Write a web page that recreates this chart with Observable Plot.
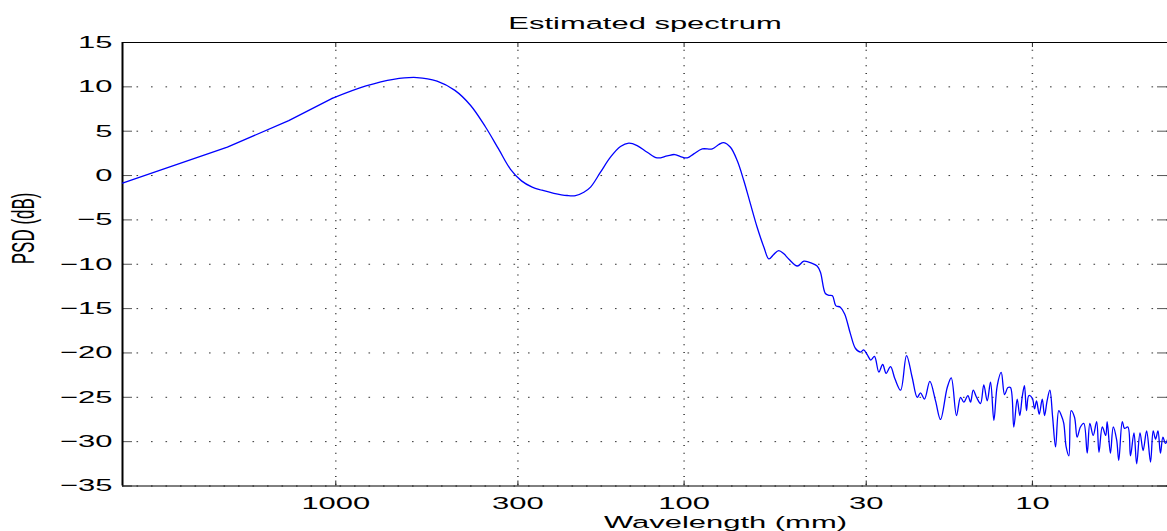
<!DOCTYPE html>
<html>
<head>
<meta charset="utf-8">
<script src="https://cdn.jsdelivr.net/npm/d3@7"></script>
<script src="https://cdn.jsdelivr.net/npm/@observablehq/plot@0.6"></script>
<style>
  html, body { margin: 0; padding: 0; background: #fff; overflow: hidden; }
</style>
</head>
<body>
<div id="chart"></div>
<script>
// Estimated power spectral density against wavelength (record length 4096 mm)
const wavelengthMm = [
  4096, 2048, 1365, 1024, 819, 683, 585, 512, 455, 410, 372, 341, 315, 293, 273, 256,
  236.6, 216.5, 205, 194, 185.6, 173.8, 162.7, 152.3, 144.1, 136.4,
  127.6, 119.5, 111.8, 106.5, 102.4, 97.9, 93.8, 88.7, 83.0, 79.5,
  76.9, 73.6, 70.4, 67.4, 64.5, 61.7, 59.0, 57.1, 55.3, 53.5,
  51.7, 50.0, 47.3, 45.3, 42.9, 41.5,
  40.6, 39.3, 38.4, 37.5, 36.7, 35.6, 34.6, 33.3, 32.2, 31.15,
  30.5, 29.8, 29.1, 28.4, 27.6, 26.9, 26.3, 25.55, 24.8, 23.9,
  22.98, 22.13, 21.41, 20.95, 20.41, 19.70, 18.97, 18.36, 17.56, 17.10,
  16.52, 16.08, 15.74, 15.32, 15.05, 14.79, 14.47, 14.09, 13.79, 13.48,
  13.19, 12.90, 12.62, 12.29, 12.02, 11.76, 11.56, 11.31, 11.06, 10.87,
  10.70, 10.54, 10.40, 10.24, 10.01, 9.86, 9.73, 9.56, 9.37, 9.23,
  9.07, 8.91, 8.75, 8.58, 8.40, 8.26, 8.13, 8.00, 7.86, 7.74,
  7.57, 7.44, 7.28, 7.12, 6.96, 6.84, 6.69, 6.54, 6.44, 6.30,
  6.16, 6.10, 5.97, 5.86, 5.73, 5.65, 5.52, 5.44, 5.32, 5.23,
  5.11, 5.02, 4.91, 4.81, 4.70, 4.58, 4.50, 4.43, 4.36, 4.29,
  4.22, 4.15, 4.09
];

const psdDb = [
  -0.85, 3.2, 6.2, 8.7, 10.1, 10.85, 11.05, 10.65, 9.6, 7.9, 5.5, 3.0, 0.7, -0.6, -1.3, -1.65,
  -2.0, -2.25, -2.26, -1.88, -1.3, 0.38, 2.07, 3.27, 3.65, 3.38,
  2.63, 1.99, 2.22, 2.37, 2.14, 1.99, 2.44, 3.0, 3.0, 3.5,
  3.72, 3.19, 1.69, -0.56, -3.2, -5.83, -8.08, -9.4, -8.9, -8.46,
  -8.83, -9.44, -10.2, -9.66, -9.9, -10.2,
  -10.9, -13.3, -13.5, -13.55, -14.66, -14.85, -15.6, -17.85, -19.5, -19.9,
  -19.65, -20.2, -20.8, -20.4, -22.15, -21.3, -22.3, -21.55, -22.95, -24.2,
  -20.3, -22.8, -25.0, -24.5, -25.2, -23.2, -25.4, -27.5, -23.9, -22.8,
  -27.05, -25.0, -25.55, -24.8, -25.55, -24.2, -25.0, -25.7, -23.6, -25.4,
  -23.3, -27.6, -23.7, -22.2, -24.7, -23.9, -23.9, -28.35, -25.2, -27.05,
  -25.0, -23.7, -26.5, -24.8, -25.1, -26.3, -25.4, -26.9, -25.2, -27.05,
  -25.35, -24.2, -27.2, -30.6, -26.5, -27.05, -27.9, -30.6, -31.6, -26.5,
  -27.25, -29.5, -28.35, -27.95, -31.3, -27.95, -29.3, -27.75, -31.2, -28.35,
  -29.3, -27.75, -31.3, -28.35, -29.8, -32.1, -27.75, -28.5, -28.35, -31.6,
  -29.0, -32.5, -29.0, -31.0, -28.8, -32.3, -28.8, -29.7, -28.8, -31.3,
  -29.5, -30.2, -29.7
];

const xTicks = [1000, 300, 100, 30, 10];
const yTicks = [-35, -30, -25, -20, -15, -10, -5, 0, 5, 10, 15];
const xDomain = [4096, 4.094];
const yDomain = [-35, 15];

const titleText = "Estimated spectrum";
const xLabel = "Wavelength (mm)";
const yLabel = "PSD (dB)";

const W = 1167, H = 531;
const M = {top: 42, right: 0, bottom: 45.5, left: 122};
const plotW = W - M.left - M.right;
const plotH = H - M.top - M.bottom;
const FONT = 17;
const STRETCH = 1.82; // wide lettering

const spectrum = wavelengthMm.map((w, i) => ({wavelength: w, psd: psdDb[i]}));
// the first few long-wavelength bins are joined by straight segments,
// the densely sampled remainder by a smooth curve through every estimate
const coarse = spectrum.slice(0, 4);
const fine = spectrum.slice(3);

const chart = Plot.plot({
  width: W,
  height: H,
  marginTop: M.top,
  marginRight: M.right,
  marginBottom: M.bottom,
  marginLeft: M.left,
  style: {
    fontFamily: "'Liberation Sans', Arial, Helvetica, sans-serif",
    fontSize: FONT + "px",
    background: "#fff",
    color: "#000"
  },
  x: {type: "log", domain: xDomain},
  y: {domain: yDomain},
  marks: [
    // dotted grid
    Plot.gridY(yTicks, {stroke: "#333", strokeOpacity: 1, strokeWidth: 1, strokeDasharray: "1.6,12.9"}),
    Plot.gridX(xTicks, {stroke: "#333", strokeOpacity: 1, strokeWidth: 1.5, strokeDasharray: "1,6.75"}),
    // inward tick marks on all sides
    Plot.ruleX(xTicks, {insetTop: plotH - 5, stroke: "#222"}),
    Plot.ruleX(xTicks, {insetBottom: plotH - 5, stroke: "#222"}),
    Plot.ruleY(yTicks, {insetRight: plotW - 10, stroke: "#555"}),
    Plot.ruleY(yTicks, {insetLeft: plotW - 10, stroke: "#555"}),
    // box
    Plot.ruleY([yDomain[1], yDomain[0]], {stroke: "#000", strokeWidth: 1}),
    Plot.ruleX([xDomain[0]], {stroke: "#000", strokeWidth: 2}),
    // spectrum
    Plot.line(coarse, {x: "wavelength", y: "psd", stroke: "#0000ff", strokeWidth: 1.3}),
    Plot.line(fine, {x: "wavelength", y: "psd", stroke: "#0000ff", strokeWidth: 1.3, curve: "catmull-rom"}),
    // tick labels
    Plot.axisX(xTicks, {tickSize: 0, tickPadding: 11, tickFormat: d => String(d), label: null, fontSize: FONT}),
    Plot.axisY(yTicks, {tickSize: 0, tickPadding: 10, tickFormat: d3.format("d"), label: null, fontSize: FONT}),
    // title and axis titles
    Plot.text([titleText], {frameAnchor: "top", lineAnchor: "middle", dy: -19.1, fontSize: FONT}),
    Plot.text([xLabel], {frameAnchor: "bottom", lineAnchor: "middle", dx: 80.5, dy: 36.4, fontSize: FONT}),
    Plot.text([yLabel], {frameAnchor: "left", lineAnchor: "middle", rotate: -90, dx: -98.8, fontSize: FONT})
  ]
});

// widen the lettering horizontally about each text's anchor point
chart.querySelectorAll("text").forEach(t => {
  const s = `scale(${STRETCH},1)`;
  const tr = t.getAttribute("transform");
  if (tr && tr.includes("rotate")) {
    t.setAttribute("transform", tr.replace("rotate", s + " rotate"));
  } else if (tr) {
    t.setAttribute("transform", tr + " " + s);
  } else {
    const x = +t.getAttribute("x") || 0, y = t.getAttribute("y");
    t.removeAttribute("x");
    t.setAttribute("transform", `translate(${x},0) ${s}`);
    if (y != null) t.setAttribute("y", y);
  }
});

document.getElementById("chart").appendChild(chart);
</script>
</body>
</html>
